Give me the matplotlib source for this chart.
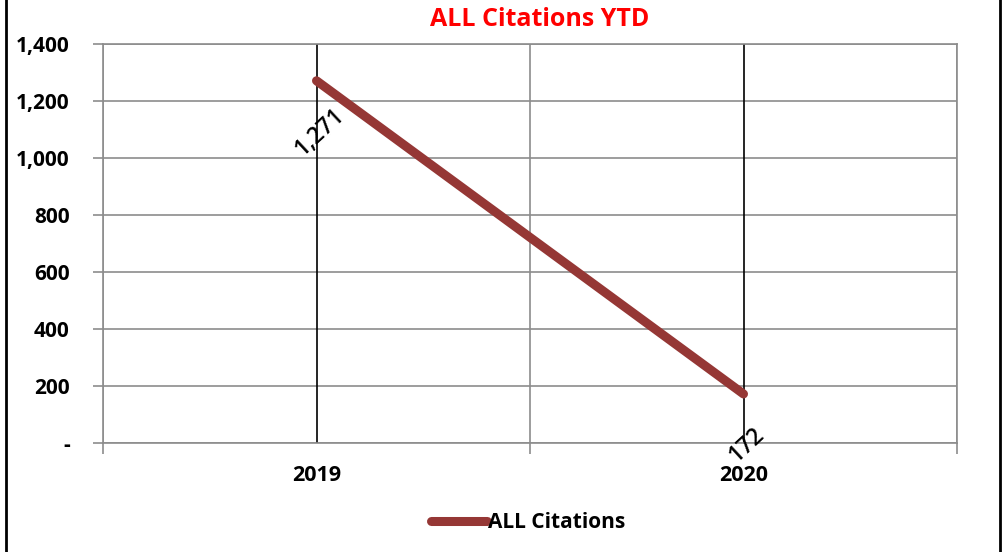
import matplotlib
matplotlib.use("Agg")
import matplotlib.pyplot as plt
from matplotlib.patches import Rectangle
from matplotlib.ticker import FuncFormatter

years = ["2019", "2020"]
citations = [1271, 172]
y_ticks = [0, 200, 400, 600, 800, 1000, 1200, 1400]

LINE_COLOR = "#953735"
GRID_COLOR = "#8c8c8c"

plt.rcParams["font.family"] = ["Open Sans", "DejaVu Sans"]

fig = plt.figure(figsize=(10.02, 5.52), dpi=100)
ax = fig.add_axes([103 / 1002, 1 - 443 / 552, (957 - 103) / 1002, (443 - 44) / 552])

xs = [i + 0.5 for i in range(len(years))]

# black drop lines at each category
for x in xs:
    ax.axvline(x, color="black", lw=1.2, zorder=2)

ax.plot(xs, citations, color=LINE_COLOR, lw=6.5, solid_capstyle="round", zorder=3,
        label="ALL Citations")

for x, v in zip(xs, citations):
    ax.annotate(f"{v:,}", (x, v), xytext=(2.5, -37), textcoords="offset points",
                ha="center", va="center", rotation=43, fontsize=16.5,
                fontweight="semibold")

ax.set_xlim(0, len(years))
ax.set_ylim(0, 1400)
ax.set_yticks(y_ticks)
ax.yaxis.set_major_formatter(FuncFormatter(lambda v, p: "-" if v == 0 else f"{int(v):,}"))
ax.set_xticks(range(len(years) + 1))
ax.set_xticklabels([])
ax.set_xticks(xs, minor=True)
ax.set_xticklabels(years, minor=True)

ax.grid(True, which="major", color=GRID_COLOR, lw=1.2, zorder=1)
for s in ax.spines.values():
    s.set_color(GRID_COLOR)
    s.set_linewidth(1.2)

ax.tick_params(axis="y", which="major", length=7, color=GRID_COLOR, width=1.2,
               labelsize=15, pad=17)
ax.tick_params(axis="x", which="major", length=8, color=GRID_COLOR, width=1.2)
ax.tick_params(axis="x", which="minor", length=0, labelsize=15.5, pad=16)
for lbl in ax.get_yticklabels() + ax.get_xticklabels(minor=True):
    lbl.set_fontweight("bold")

fig.text(540 / 1002, 1 - 20 / 552, "ALL Citations YTD", color="red",
         fontsize=18, fontweight="bold", ha="center", va="center")

leg = fig.legend(loc="center", bbox_to_anchor=(528 / 1002, 1 - 523 / 552),
                 frameon=False, handlelength=2.7, handletextpad=0.05,
                 prop={"weight": "bold", "size": 15})

fig.patches.append(Rectangle((6 / 1002, -0.02), (1000 - 6) / 1002, 1.1,
                             transform=fig.transFigure, fill=False,
                             edgecolor="black", lw=2, clip_on=False))

fig.savefig("out.png", dpi=100)
